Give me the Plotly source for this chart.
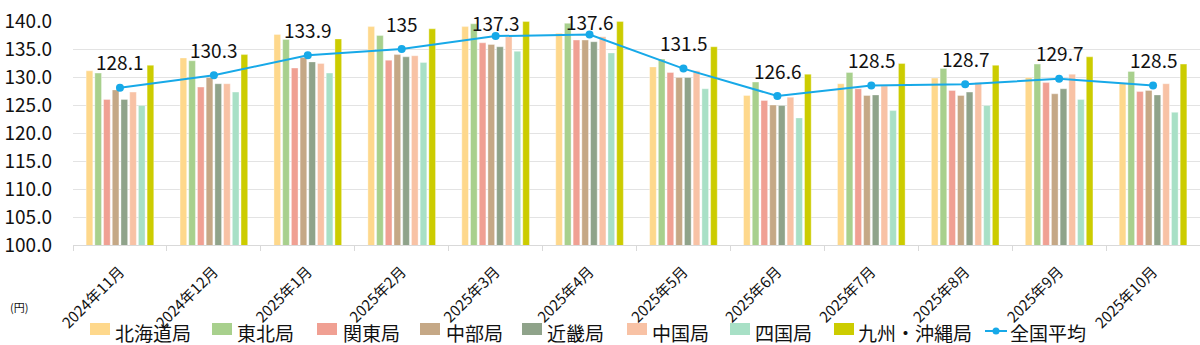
import plotly.graph_objects as go

months = ["2024年11月", "2024年12月", "2025年1月", "2025年2月", "2025年3月", "2025年4月",
          "2025年5月", "2025年6月", "2025年7月", "2025年8月", "2025年9月", "2025年10月"]

hokkaido = [131.1, 133.4, 137.6, 139.0, 139.0, 137.8, 131.8, 126.7, 128.8, 129.8, 129.9, 128.9]
tohoku   = [130.7, 132.9, 136.7, 137.4, 139.5, 139.6, 133.2, 129.1, 130.8, 131.5, 132.3, 131.0]
kanto    = [126.0, 128.2, 131.6, 133.0, 136.1, 136.6, 130.8, 125.8, 127.9, 127.6, 129.0, 127.4]
chubu    = [127.7, 129.9, 133.5, 134.0, 135.8, 136.6, 129.9, 125.0, 126.7, 126.7, 127.0, 127.6]
kinki    = [126.0, 128.8, 132.7, 133.6, 135.4, 136.3, 129.9, 124.9, 126.8, 127.3, 127.9, 126.8]
chugoku  = [127.3, 128.8, 132.4, 133.8, 137.2, 137.2, 131.1, 126.4, 128.4, 129.0, 130.5, 128.8]
shikoku  = [124.9, 127.3, 130.7, 132.6, 134.6, 134.3, 127.9, 122.7, 124.0, 124.9, 126.0, 123.7]
kyushu   = [132.1, 134.0, 136.8, 138.6, 139.9, 139.9, 135.4, 130.5, 132.4, 132.1, 133.6, 132.3]
national = [128.1, 130.3, 133.9, 135, 137.3, 137.6, 131.5, 126.6, 128.5, 128.7, 129.7, 128.5]

series_names = ["北海道局", "東北局", "関東局", "中部局", "近畿局", "中国局", "四国局", "九州・沖縄局"]
series_values = [hokkaido, tohoku, kanto, chubu, kinki, chugoku, shikoku, kyushu]
avg_name = "全国平均"
unit_label = "(円)"

colors = ["#FED88C", "#A8D08D", "#F0A093", "#C5A886", "#8FA38A", "#F8C2A5", "#A8E0C6", "#CCCC00"]
line_color = "#17A9E8"
FONT = "Noto Sans CJK JP"

W, H = 1200, 345
ML, MR, MT, MB = 73, 0, 21, 100
PW, PH = W - ML - MR, H - MT - MB
Y0, Y1 = 100, 140

def px_x(px):
    return (px - ML) / PW

def px_y(py):
    return (H - MB - py) / PH

fig = go.Figure()
for name, vals, col in zip(series_names, series_values, colors):
    fig.add_trace(go.Bar(x=months, y=vals, name=name,
                         marker=dict(color=col, line=dict(color="rgba(255,255,255,0.45)", width=0.8)),
                         showlegend=False))

fig.add_trace(go.Scatter(x=months, y=national, name=avg_name, mode="lines+markers",
                         line=dict(color=line_color, width=2), marker=dict(size=8, color=line_color),
                         showlegend=False, cliponaxis=False))

annotations = []
for m, v in zip(months, national):
    point_px = MT + (Y1 - v) / (Y1 - Y0) * PH
    label_center = max(point_px - 26, 22)
    annotations.append(dict(x=m, y=v, xref="x", yref="y", text=f"{v:g}", showarrow=False,
                            yanchor="middle", yshift=point_px - label_center,
                            font=dict(family=FONT, size=19, color="#111")))

# custom legend
legend_swatch_x = [90, 212, 317, 420, 522, 627, 730, 834]
legend_text_x = [113, 235, 341, 444, 545, 650, 753, 856]
shapes = []
for sx, tx, name, col in zip(legend_swatch_x, legend_text_x, series_names, colors):
    shapes.append(dict(type="rect", xref="paper", yref="paper", x0=px_x(sx), x1=px_x(sx + 20),
                       y0=px_y(335), y1=px_y(323), fillcolor=col, line=dict(width=0)))
    annotations.append(dict(x=px_x(tx), y=px_y(332), xref="paper", yref="paper", text=name, showarrow=False,
                            xanchor="left", yanchor="middle", font=dict(family=FONT, size=19, color="#111")))
shapes.append(dict(type="line", xref="paper", yref="paper", x0=px_x(985), x1=px_x(1007), y0=px_y(331), y1=px_y(331),
                   line=dict(color=line_color, width=2)))
shapes.append(dict(type="circle", xref="paper", yref="paper", x0=px_x(992.5), x1=px_x(999.5),
                   y0=px_y(334.5), y1=px_y(327.5), fillcolor=line_color, line=dict(width=0)))
annotations.append(dict(x=px_x(1008), y=px_y(332), xref="paper", yref="paper", text=avg_name, showarrow=False,
                        xanchor="left", yanchor="middle", font=dict(family=FONT, size=19, color="#111")))
annotations.append(dict(x=px_x(8), y=px_y(307), xref="paper", yref="paper", text=unit_label, showarrow=False,
                        xanchor="left", yanchor="middle", font=dict(family=FONT, size=11, color="#111")))

fig.update_layout(
    width=W, height=H, margin=dict(l=ML, r=MR, t=MT, b=MB, autoexpand=False),
    paper_bgcolor="white", plot_bgcolor="white",
    barmode="group", bargap=0.258, bargroupgap=0.234,
    font=dict(family=FONT, color="#111"),
    annotations=annotations, shapes=shapes,
    xaxis=dict(type="category", range=[-0.5, len(months) - 0.5], tickson="boundaries", ticks="outside",
               ticklen=5, tickcolor="#D9D9D9",
               showline=True, linecolor="#D9D9D9", linewidth=1, tickangle=-45, automargin=False,
               ticklabelstandoff=11,
               tickfont=dict(family=FONT, size=15, color="#111"), showgrid=False),
    yaxis=dict(range=[Y0, Y1], dtick=5, tickformat=".1f", showgrid=True, gridcolor="#E3E3E3", gridwidth=1,
               zeroline=False, showline=False, ticks="", ticklabelstandoff=20, automargin=False,
               tickfont=dict(family=FONT, size=19, color="#111")),
)

fig.write_html("out.html")
